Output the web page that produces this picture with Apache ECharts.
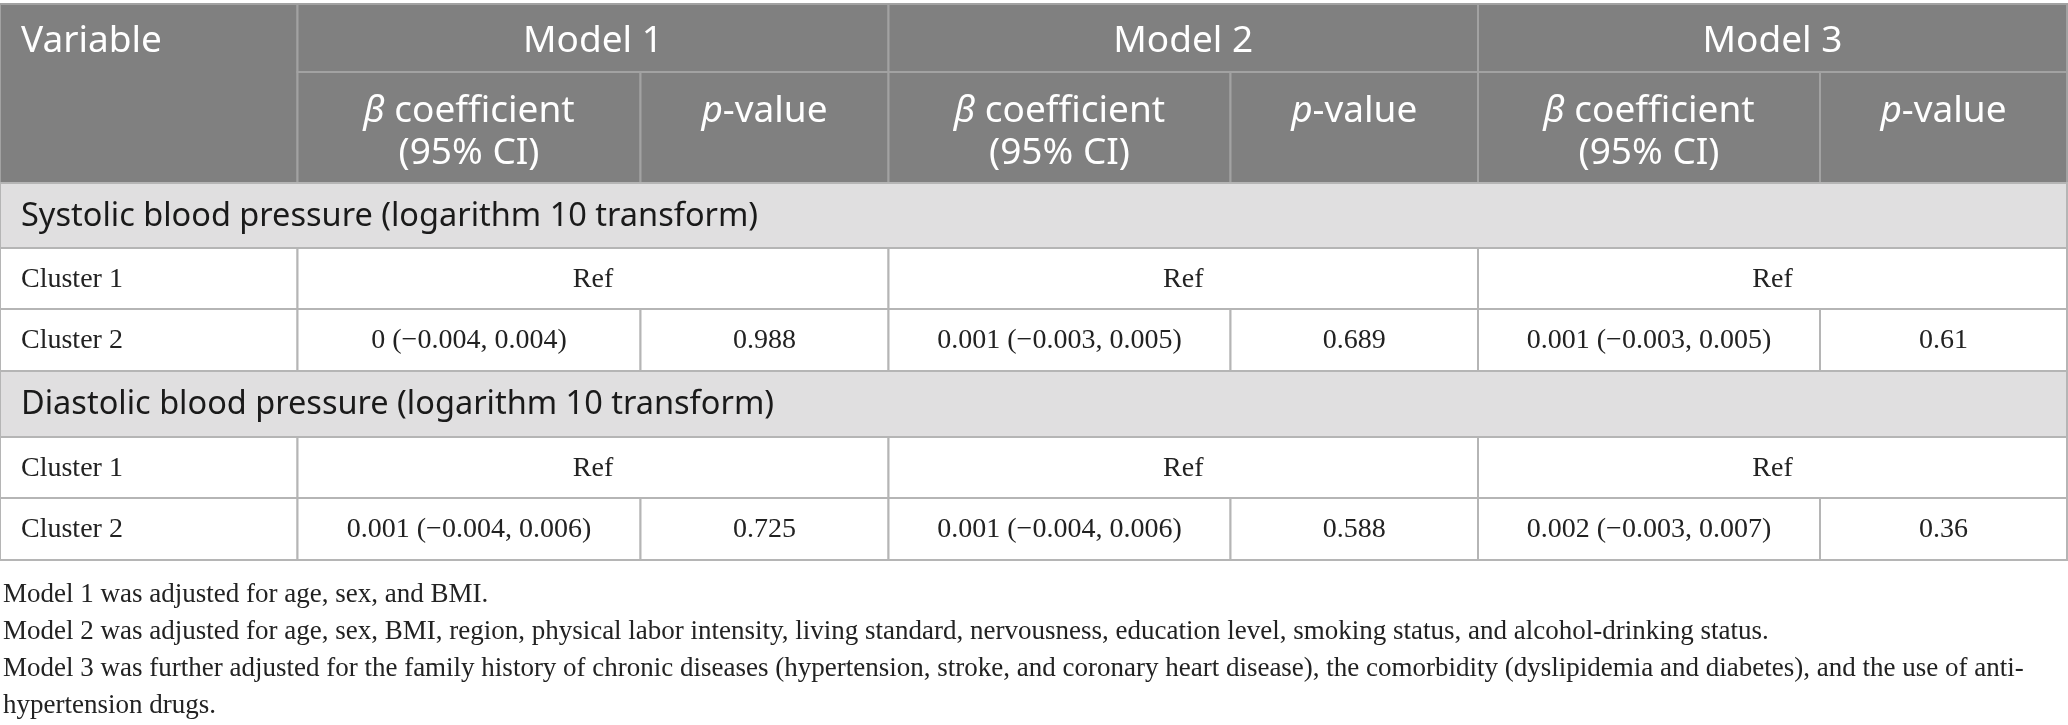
<!DOCTYPE html>
<html><head><meta charset="utf-8">
<script src="https://cdn.jsdelivr.net/npm/echarts@6/dist/echarts.min.js"></script>
<style>html,body{margin:0;padding:0;background:#fff}#c{width:2068px;height:725px}</style>
</head><body><div id="c"></div>
<script>
// ---------- data ----------
const firstHeader = 'Variable';
const modelNames = ['Model 1', 'Model 2', 'Model 3'];
const betaHeader = '{i|β} coefficient\n(95% CI)';
const pHeader = '{i|p}-value';
const sectionTitles = [
  'Systolic blood pressure (logarithm 10 transform)',
  'Diastolic blood pressure (logarithm 10 transform)'
];
const rowLabels = ['Cluster 1', 'Cluster 2'];
const refLabel = 'Ref';
const sbpBeta = ['0 (\u22120.004, 0.004)', '0.001 (\u22120.003, 0.005)', '0.001 (\u22120.003, 0.005)'];
const sbpP = ['0.988', '0.689', '0.61'];
const dbpBeta = ['0.001 (\u22120.004, 0.006)', '0.001 (\u22120.004, 0.006)', '0.002 (\u22120.003, 0.007)'];
const dbpP = ['0.725', '0.588', '0.36'];
const footnotes = [
  'Model 1 was adjusted for age, sex, and BMI.',
  'Model 2 was adjusted for age, sex, BMI, region, physical labor intensity, living standard, nervousness, education level, smoking status, and alcohol-drinking status.',
  'Model 3 was further adjusted for the family history of chronic diseases (hypertension, stroke, and coronary heart disease), the comorbidity (dyslipidemia and diabetes), and the use of anti-',
  'hypertension drugs.'
];

// ---------- layout & style ----------
const W = 2068, H = 725;
const colEdges = [0, 297.5, 640.5, 888.5, 1230.5, 1478, 1820, 2067];
const rowEdges = [4, 72, 183, 248, 309, 371, 437, 498, 560];
const footnoteY = [594, 631, 668, 705];
const padL = 21;
const SANS = '"Noto Sans", "Open Sans", sans-serif';
const SERIF = '"Liberation Serif", "Times New Roman", serif';
const HEAD_FILL = '#808080', HEAD_LINE = '#a2a2a2';
const SEC_FILL = '#e0dfe0', BODY_LINE = '#b5b5b5';
const fonts = {
  head: { fontFamily: SANS, fontSize: 37, fill: '#ffffff', lineHeight: 42 },
  sec:  { fontFamily: SANS, fontSize: 32.5, fill: '#1a1a1a', lineHeight: 40 },
  body: { fontFamily: SERIF, fontSize: 28, fill: '#222222', lineHeight: 34 },
  note: { fontFamily: SERIF, fontSize: 27, fill: '#222222', lineHeight: 34 }
};
const headRowMid = 41;
const subHeadTop = 90;

// ---------- build cells ----------
const cells = [];
function cell(c0, c1, r0, r1, opts) {
  cells.push(Object.assign({ x0: colEdges[c0], x1: colEdges[c1], y0: rowEdges[r0], y1: rowEdges[r1] }, opts));
}
// header
cell(0, 1, 0, 2, { fill: HEAD_FILL, stroke: HEAD_LINE, text: firstHeader, font: 'head', align: 'left', ty: headRowMid });
modelNames.forEach((m, k) => {
  cell(1 + 2 * k, 3 + 2 * k, 0, 1, { fill: HEAD_FILL, stroke: HEAD_LINE, text: m, font: 'head', align: 'center', ty: headRowMid });
  cell(1 + 2 * k, 2 + 2 * k, 1, 2, { fill: HEAD_FILL, stroke: HEAD_LINE, text: betaHeader, font: 'head', align: 'center', vTop: subHeadTop });
  cell(2 + 2 * k, 3 + 2 * k, 1, 2, { fill: HEAD_FILL, stroke: HEAD_LINE, text: pHeader, font: 'head', align: 'center', vTop: subHeadTop });
});
// body
const groups = [[sbpBeta, sbpP], [dbpBeta, dbpP]];
groups.forEach((g, s) => {
  const r = 2 + s * 3;
  cell(0, 7, r, r + 1, { fill: SEC_FILL, stroke: BODY_LINE, text: sectionTitles[s], font: 'sec', align: 'left' });
  cell(0, 1, r + 1, r + 2, { fill: '#fff', stroke: BODY_LINE, text: rowLabels[0], font: 'body', align: 'left' });
  modelNames.forEach((m, k) => {
    cell(1 + 2 * k, 3 + 2 * k, r + 1, r + 2, { fill: '#fff', stroke: BODY_LINE, text: refLabel, font: 'body', align: 'center' });
  });
  cell(0, 1, r + 2, r + 3, { fill: '#fff', stroke: BODY_LINE, text: rowLabels[1], font: 'body', align: 'left' });
  modelNames.forEach((m, k) => {
    cell(1 + 2 * k, 2 + 2 * k, r + 2, r + 3, { fill: '#fff', stroke: BODY_LINE, text: g[0][k], font: 'body', align: 'center' });
    cell(2 + 2 * k, 3 + 2 * k, r + 2, r + 3, { fill: '#fff', stroke: BODY_LINE, text: g[1][k], font: 'body', align: 'center' });
  });
});
// footnotes
footnotes.forEach((t, i) => {
  cells.push({ x0: 3, x1: W, y0: footnoteY[i] - 18, y1: footnoteY[i] + 18, text: t, font: 'note', align: 'left', pad: 0 });
});

// ---------- chart ----------
const chart = echarts.init(document.getElementById('c'), null, { renderer: 'canvas' });
chart.setOption({
  animation: false,
  backgroundColor: '#ffffff',
  grid: { left: 0, right: 0, top: 0, bottom: 0 },
  xAxis: { type: 'value', min: 0, max: W, show: false },
  yAxis: { type: 'value', min: 0, max: H, inverse: true, show: false },
  series: [{
    type: 'custom',
    clip: false,
    data: cells.map(c => [c.x0, c.y0, c.x1, c.y1]),
    renderItem: function (params, api) {
      const c = cells[params.dataIndex];
      const p0 = api.coord([api.value(0), api.value(1)]);
      const p1 = api.coord([api.value(2), api.value(3)]);
      const children = [];
      if (c.fill) {
        children.push({
          type: 'rect',
          shape: { x: p0[0], y: p0[1], width: p1[0] - p0[0], height: p1[1] - p0[1] },
          style: { fill: c.fill, stroke: c.stroke, lineWidth: 2 }
        });
      }
      const f = fonts[c.font];
      const pad = c.pad !== undefined ? c.pad : padL;
      const tx = c.align === 'left' ? p0[0] + pad : (p0[0] + p1[0]) / 2;
      let ty, va;
      if (c.vTop !== undefined) { ty = api.coord([0, c.vTop])[1]; va = 'top'; }
      else if (c.ty !== undefined) { ty = api.coord([0, c.ty])[1]; va = 'middle'; }
      else { ty = (p0[1] + p1[1]) / 2 + 1; va = 'middle'; }
      children.push({
        type: 'text',
        style: {
          text: c.text, x: tx, y: ty, align: c.align, verticalAlign: va,
          fontFamily: f.fontFamily, fontSize: f.fontSize, fill: f.fill, lineHeight: f.lineHeight,
          rich: { i: { fontStyle: 'italic', fontFamily: f.fontFamily, fontSize: f.fontSize, fill: f.fill, lineHeight: f.lineHeight } }
        }
      });
      return { type: 'group', children: children };
    }
  }]
});
</script>
</body></html>
